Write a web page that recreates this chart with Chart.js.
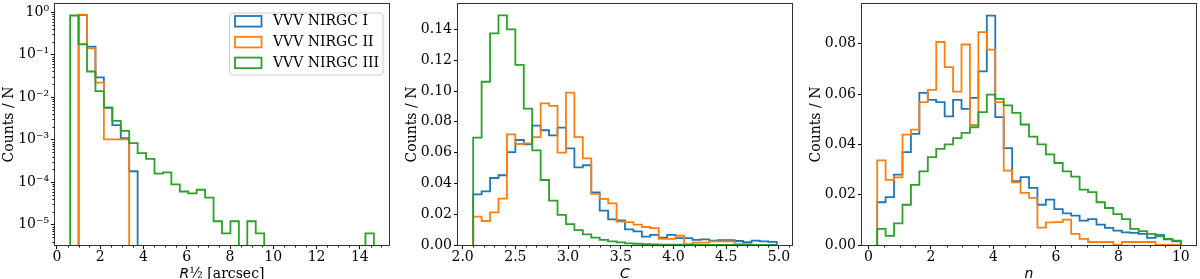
<!DOCTYPE html>
<html>
<head>
<meta charset="utf-8">
<script src="https://cdn.jsdelivr.net/npm/chart.js@4.4.0/dist/chart.umd.min.js"></script>
<style>
  html, body { margin: 0; padding: 0; background: #fff; overflow: hidden; }
  #fig { position: relative; width: 1200px; height: 279px; }
  #fig canvas { position: absolute; top: 0; }
</style>
</head>
<body>
<div id="fig">
  <canvas id="panelR" width="400" height="279" style="left:0px"></canvas>
  <canvas id="panelC" width="400" height="279" style="left:403px"></canvas>
  <canvas id="panelN" width="393" height="279" style="left:807px"></canvas>
</div>
<script>
const seriesNames = ['VVV NIRGC I', 'VVV NIRGC II', 'VVV NIRGC III'];
const seriesColors = ['#1f77b4', '#ff7f0e', '#2ca02c'];

// R1/2 panel, bin edges and normalised counts (log y)
const rEdges = [0.61, 1.00, 1.39, 1.78, 2.17, 2.56, 2.95, 3.34, 3.73, 4.12, 4.51, 4.90, 5.29,
  5.68, 6.07, 6.46, 6.85, 7.24, 7.63, 8.02, 8.41, 8.80, 9.19, 9.58, 9.97, 10.36, 10.75,
  11.14, 11.53, 11.92, 12.31, 12.70, 13.09, 13.48, 13.87, 14.26, 14.65];
const rCountsI = [0, 0.85, 0.154, 0.029, 0.0056, 0.0022, 0.00108, 0.00018,
  0, 0, 0, 0, 0, 0, 0, 0, 0, 0, 0, 0, 0, 0, 0, 0, 0, 0, 0, 0, 0, 0, 0, 0, 0, 0, 0, 0];
const rCountsII = [0, 0.87, 0.141, 0.022, 0.00101, 0.00101, 0.00101,
  0, 0, 0, 0, 0, 0, 0, 0, 0, 0, 0, 0, 0, 0, 0, 0, 0, 0, 0, 0, 0, 0, 0, 0, 0, 0, 0, 0, 0];
const rCountsIII = [0.83, 0.175, 0.040, 0.0138, 0.0057, 0.00275, 0.0016, 0.00083, 0.00048,
  0.00035, 0.000158, 0.00017, 0.000088, 0.00006, 0.000054, 0.000066, 0.000043, 0.000012,
  0.0000062, 0.000012, 0, 0.000012, 0.0000062, 0, 0, 0, 0, 0, 0, 0, 0, 0, 0, 0, 0, 0.0000062];

// C panel
const cEdges = [2.10, 2.18, 2.26, 2.34, 2.42, 2.50, 2.58, 2.66, 2.74, 2.82, 2.90, 2.98, 3.06,
  3.14, 3.22, 3.30, 3.38, 3.46, 3.54, 3.62, 3.70, 3.78, 3.86, 3.94, 4.02, 4.10, 4.18, 4.26,
  4.34, 4.42, 4.50, 4.58, 4.66, 4.74, 4.82, 4.90, 4.98];
const cCountsI = [0.0329, 0.0348, 0.0435, 0.0453, 0.0603, 0.0682, 0.0654, 0.0775, 0.0745, 0.0712,
  0.0762, 0.0628, 0.0504, 0.0518, 0.0341, 0.0223, 0.0167, 0.0160, 0.0102, 0.0088,
  0.0055, 0.0066, 0.0047, 0.0066, 0.0045, 0.0045, 0.0033, 0.0037, 0.0028, 0.0032,
  0.0032, 0.0026, 0.0018, 0.0028, 0.0024, 0.0020];
const cCountsII = [0.0184, 0.0156, 0.0212, 0.0301, 0.0719, 0.0656, 0.0660, 0.0701, 0.0920, 0.0903,
  0.0600, 0.0990, 0.0700, 0.0563, 0.0332, 0.0300, 0.0270, 0.0152, 0.0148, 0.0132,
  0.0117, 0.0110, 0.0040, 0.0040, 0.0060, 0.0006, 0.0015, 0.0015, 0.0024, 0.0024,
  0.0024, 0.0006, 0.0006, 0, 0, 0];
const cCountsIII = [0.0697, 0.1060, 0.1374, 0.1491, 0.1400, 0.1170, 0.0885, 0.0615, 0.0422, 0.0288,
  0.0195, 0.0136, 0.0097, 0.0069, 0.0048, 0.0033, 0.0024, 0.0017, 0.0011, 0.0008,
  0.0005, 0.0004, 0.0003, 0.0002, 0.0002, 0.0001, 0.0001, 0.00005, 0.00005, 0.00003,
  0.00002, 0.00002, 0.00001, 0.00001, 0, 0];

// n panel
const nEdges = [0.28, 0.55, 0.82, 1.09, 1.36, 1.63, 1.90, 2.17, 2.44, 2.71, 2.98, 3.25, 3.52,
  3.79, 4.06, 4.33, 4.60, 4.87, 5.14, 5.41, 5.68, 5.95, 6.22, 6.49, 6.76, 7.03, 7.30, 7.57,
  7.84, 8.11, 8.38, 8.65, 8.92, 9.19, 9.46, 9.73, 10.00];
const nCountsI = [0.0170, 0.0190, 0.0280, 0.0369, 0.0442, 0.0605, 0.0577, 0.0568, 0.0511, 0.0577,
  0.0541, 0.0585, 0.0690, 0.0912, 0.0508, 0.0385, 0.0254, 0.0270, 0.0227, 0.0160,
  0.0180, 0.0143, 0.0126, 0.0117, 0.0097, 0.0103, 0.0081, 0.0068, 0.0057, 0.0050,
  0.0048, 0.0044, 0.0028, 0.0040, 0.0022, 0.0015];
const nCountsII = [0.0336, 0.0259, 0.0269, 0.0439, 0.0459, 0.0568, 0.0617, 0.0807, 0.0707, 0.0610,
  0.0797, 0.0477, 0.0846, 0.0777, 0.0568, 0.0296, 0.0249, 0.0207, 0.0187, 0.0069,
  0.0090, 0.0091, 0.0101, 0.0044, 0.0024, 0.0012, 0.0012, 0.0012, 0, 0.0012,
  0.0012, 0.0012, 0.0012, 0, 0, 0];
const nCountsIII = [0.0064, 0.0036, 0.0086, 0.0160, 0.0239, 0.0293, 0.0349, 0.0382, 0.0400, 0.0425,
  0.0446, 0.0468, 0.0528, 0.0598, 0.0581, 0.0555, 0.0525, 0.0479, 0.0431, 0.0400,
  0.0360, 0.0326, 0.0293, 0.0272, 0.0220, 0.0210, 0.0170, 0.0147, 0.0123, 0.0103,
  0.0064, 0.0055, 0.0044, 0.0034, 0.0024, 0.0017];

const logTickValues = [1e-5, 1e-4, 1e-3, 1e-2, 1e-1, 1];

const SERIF = "'DejaVu Serif', 'Liberation Serif', serif";
const tickFont = { family: SERIF, size: 14 };
const mathFont = "italic 14px 'DejaVu Sans'";
const textFont = "14px " + SERIF;

// outline of a step histogram: up at first edge, across each bin, down at last edge
function stepPoints(edges, counts, floor) {
  const pts = [{ x: edges[0], y: floor }];
  counts.forEach((c, i) => pts.push({ x: edges[i], y: c > 0 ? c : floor }));
  pts.push({ x: edges[edges.length - 1], y: floor });
  return pts;
}

function minorList(from, to, step, skipEvery) {
  const out = [];
  for (let k = 0; from + k * step <= to + 1e-9; k++) {
    if (k % skipEvery !== 0) out.push(from + k * step);
  }
  return out;
}

const supMap = { '-': '\u207B', '0': '\u2070', '1': '\u00B9', '2': '\u00B2', '3': '\u00B3',
  '4': '\u2074', '5': '\u2075', '6': '\u2076', '7': '\u2077', '8': '\u2078', '9': '\u2079' };
function powerLabel(v) {
  const e = String(Math.round(Math.log10(v)));
  return '10' + e.split('').map(ch => supMap[ch]).join('');
}

// frame on all four sides + minor tick marks
const axesFrame = {
  id: 'axesFrame',
  afterDatasetsDraw(chart, args, opts) {
    const { ctx, chartArea: a, scales } = chart;
    ctx.save();
    ctx.strokeStyle = '#000';
    ctx.lineWidth = 1;
    ctx.beginPath();
    (opts.minorX || []).forEach(v => {
      if (v < scales.x.min || v > scales.x.max) return;
      const px = Math.round(scales.x.getPixelForValue(v)) + 0.5;
      ctx.moveTo(px, a.bottom);
      ctx.lineTo(px, a.bottom + 2.5);
    });
    (opts.minorY || []).forEach(v => {
      if (v < scales.y.min || v > scales.y.max) return;
      const py = Math.round(scales.y.getPixelForValue(v)) + 0.5;
      ctx.moveTo(a.left, py);
      ctx.lineTo(a.left - 2.5, py);
    });
    ctx.stroke();
    ctx.strokeStyle = '#333';
    ctx.strokeRect(a.left - 0.5, a.top - 0.5, a.right - a.left + 1, a.bottom - a.top + 1);
    ctx.restore();
  }
};

// x-axis label made of pieces (italic math symbol + upright text)
const xTitle = {
  id: 'xTitle',
  afterDraw(chart, args, opts) {
    const { ctx, chartArea: a } = chart;
    ctx.save();
    ctx.fillStyle = '#000';
    ctx.textBaseline = 'alphabetic';
    let w = 0;
    opts.parts.forEach(p => { ctx.font = p.font; w += ctx.measureText(p.text).width; });
    let x = (a.left + a.right) / 2 - w / 2;
    opts.parts.forEach(p => {
      ctx.font = p.font;
      ctx.fillText(p.text, x, opts.baseline);
      x += ctx.measureText(p.text).width;
    });
    ctx.restore();
  }
};

// matplotlib-like legend box in the upper right corner
const boxLegend = {
  id: 'boxLegend',
  afterDraw(chart, args, opts) {
    if (!opts.show) return;
    const { ctx, chartArea: a } = chart;
    const w = 153.5, h = 62;
    const left = a.right - 6.5 - w, top = a.top + 8.5;
    ctx.save();
    ctx.beginPath();
    ctx.roundRect(left + 0.5, top + 0.5, w, h, 3);
    ctx.fillStyle = 'rgba(255,255,255,0.8)';
    ctx.fill();
    ctx.strokeStyle = '#cccccc';
    ctx.lineWidth = 1;
    ctx.stroke();
    chart.data.datasets.forEach((ds, i) => {
      const cy = top + 8.8 + i * 20.8;
      ctx.strokeStyle = ds.borderColor;
      ctx.lineWidth = 1.8;
      ctx.strokeRect(left + 6, cy - 5.3, 26.5, 10.6);
      ctx.fillStyle = '#000';
      ctx.font = textFont;
      ctx.textBaseline = 'middle';
      ctx.fillText(ds.label, left + 44, cy + 0.5);
    });
    ctx.restore();
  }
};

function histChart(id, p) {
  const counts = p.counts;
  return new Chart(document.getElementById(id), {
    type: 'line',
    data: {
      datasets: counts.map((c, i) => ({
        label: seriesNames[i],
        data: stepPoints(p.edges, c, p.floor),
        borderColor: seriesColors[i],
        backgroundColor: seriesColors[i],
        borderWidth: 1.8,
        borderJoinStyle: 'miter',
        pointRadius: 0,
        stepped: true,
        fill: false,
        clip: 0,
        order: 2 - i
      }))
    },
    options: {
      responsive: false,
      animation: false,
      events: [],
      layout: { padding: { top: 4, right: p.padRight, left: 0, bottom: 0 } },
      plugins: {
        legend: { display: false },
        tooltip: { enabled: false },
        axesFrame: { minorX: p.minorX, minorY: p.minorY },
        xTitle: { parts: p.xTitle, baseline: 277.5 },
        boxLegend: { show: !!p.legend }
      },
      scales: {
        x: {
          type: 'linear',
          min: p.xMin,
          max: p.xMax,
          afterFit: s => { s.height = 34; s.paddingLeft = 0; s.paddingRight = 0; },
          ticks: {
            stepSize: p.xStep, includeBounds: false, autoSkip: false, maxRotation: 0,
            padding: 0, color: '#000', font: tickFont,
            callback: v => p.xFmt(v)
          },
          grid: { drawOnChartArea: false, drawTicks: true, tickLength: 4, tickColor: '#000', tickWidth: 1 },
          border: { display: false }
        },
        y: p.yScale
      }
    },
    plugins: [axesFrame, xTitle, boxLegend]
  });
}

function yTitle() {
  return { display: true, text: 'Counts / N', color: '#000', font: { family: SERIF, size: 14 }, padding: { top: 1, bottom: 0 } };
}
const yGrid = { drawOnChartArea: false, drawTicks: true, tickLength: 4, tickColor: '#000', tickWidth: 1 };
const yFit = s => { s.width = 55; s.paddingTop = 0; s.paddingBottom = 0; };

// log panel
const rYMin = Math.pow(10, -5.48), rYMax = Math.pow(10, 0.19);
const rMinorY = [];
for (let k = -6; k <= 0; k++) for (let m = 2; m <= 9; m++) rMinorY.push(m * Math.pow(10, k));

histChart('panelR', {
  edges: rEdges, counts: [rCountsI, rCountsII, rCountsIII], floor: rYMin / 100,
  xMin: -0.09, xMax: 15.35, xStep: 2, xFmt: v => String(v), padRight: 11,
  minorX: minorList(0, 15, 0.5, 4), minorY: rMinorY, legend: true,
  xTitle: [{ text: 'R', font: mathFont }, { text: '\u00BD [arcsec]', font: textFont }],
  yScale: {
    type: 'logarithmic', min: rYMin, max: rYMax, afterFit: yFit,
    afterBuildTicks: s => { s.ticks = logTickValues.map(v => ({ value: v })); },
    ticks: { autoSkip: false, padding: 2, color: '#000', font: tickFont, callback: v => powerLabel(v) },
    grid: yGrid, border: { display: false }, title: yTitle()
  }
});

histChart('panelC', {
  edges: cEdges, counts: [cCountsI, cCountsII, cCountsIII], floor: 0,
  xMin: 1.956, xMax: 5.124, xStep: 0.5, xFmt: v => v.toFixed(1), padRight: 11,
  minorX: minorList(2.0, 5.1, 0.1, 5), minorY: [],
  xTitle: [{ text: 'C', font: mathFont }],
  yScale: {
    type: 'linear', min: 0, max: 0.1565, afterFit: yFit,
    ticks: { stepSize: 0.02, includeBounds: false, autoSkip: false, padding: 2, color: '#000', font: tickFont, callback: v => v.toFixed(2) },
    grid: yGrid, border: { display: false }, title: yTitle()
  }
});

histChart('panelN', {
  edges: nEdges, counts: [nCountsI, nCountsII, nCountsIII], floor: 0,
  xMin: -0.206, xMax: 10.486, xStep: 2, xFmt: v => String(v), padRight: 4,
  minorX: minorList(0, 10.5, 0.5, 4), minorY: [],
  xTitle: [{ text: 'n', font: mathFont }],
  yScale: {
    type: 'linear', min: 0, max: 0.0958, afterFit: yFit,
    ticks: { stepSize: 0.02, includeBounds: false, autoSkip: false, padding: 2, color: '#000', font: tickFont, callback: v => v.toFixed(2) },
    grid: yGrid, border: { display: false }, title: yTitle()
  }
});
</script>
</body>
</html>
